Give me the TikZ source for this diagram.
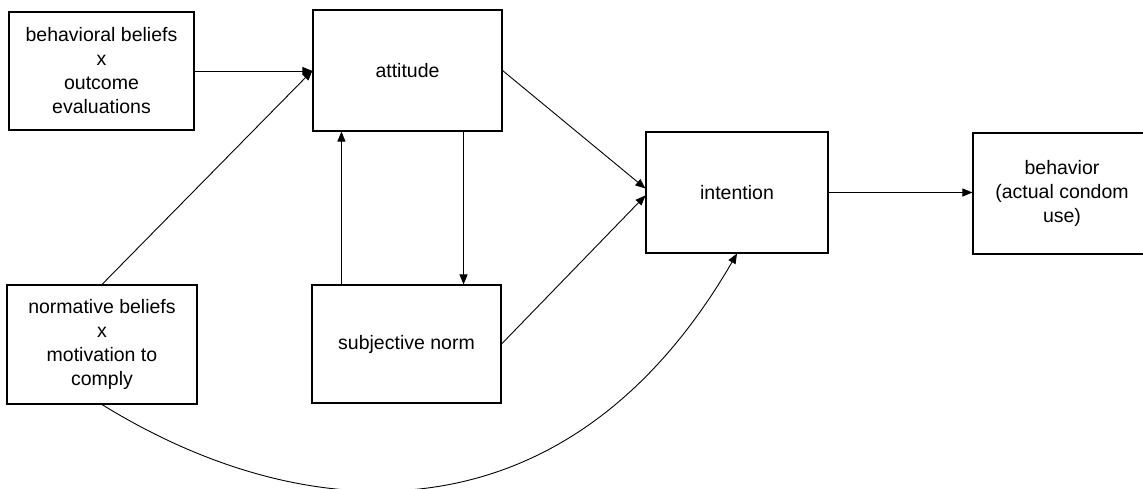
\documentclass[tikz,border=0pt]{standalone}
\usepackage{fontspec}
\setmainfont{Liberation Sans}
\usetikzlibrary{arrows.meta}
\begin{document}
\begin{tikzpicture}[x=1pt,y=-1pt,
  box/.style={draw=black,line width=1.1pt,rectangle,inner sep=0pt,align=center,
    font=\fontsize{19.5}{24}\selectfont},
  arr/.style={draw=black,line width=0.9pt,-{Triangle[length=10pt,width=8pt]}}]
\clip (0,0) rectangle (1143,489);
\fill[white] (0,0) rectangle (1143,489);
\node[box,minimum width=185pt,minimum height=118pt] (bb) at (101.5,71) {behavioral beliefs\\x\\outcome\\evaluations};
\node[box,minimum width=189pt,minimum height=121pt] (att) at (407.5,70.5) {attitude};
\node[box,minimum width=190pt,minimum height=119pt] (nb) at (102,344.5) {normative beliefs\\x\\motivation to\\comply};
\node[box,minimum width=189pt,minimum height=118pt] (sn) at (406.5,344) {subjective norm};
\node[box,minimum width=182pt,minimum height=121pt] (int) at (737,192.5) {intention};
\node[box,minimum width=178pt,minimum height=121pt] (beh) at (1062,193.5) {behavior\\(actual condom\\use)};
\draw[arr] (bb.east) -- (bb.east -| att.west);
\draw[arr] (nb.north) -- (att.west);
\draw[arr] (att.east) -- ([yshift=4pt]int.west);
\draw[arr] (sn.east) -- ([yshift=-3pt]int.west);
\draw[arr] ([xshift=30pt]sn.north west) -- ([xshift=30pt]sn.north west |- att.south);
\draw[arr] ([xshift=-39pt]att.south east) -- ([xshift=-39pt]att.south east |- sn.north);
\draw[arr] (int.east) -- (int.east -| beh.west);
\draw[arr] (nb.south) .. controls (305,530) and (566,548) .. (int.south);
\end{tikzpicture}
\end{document}
